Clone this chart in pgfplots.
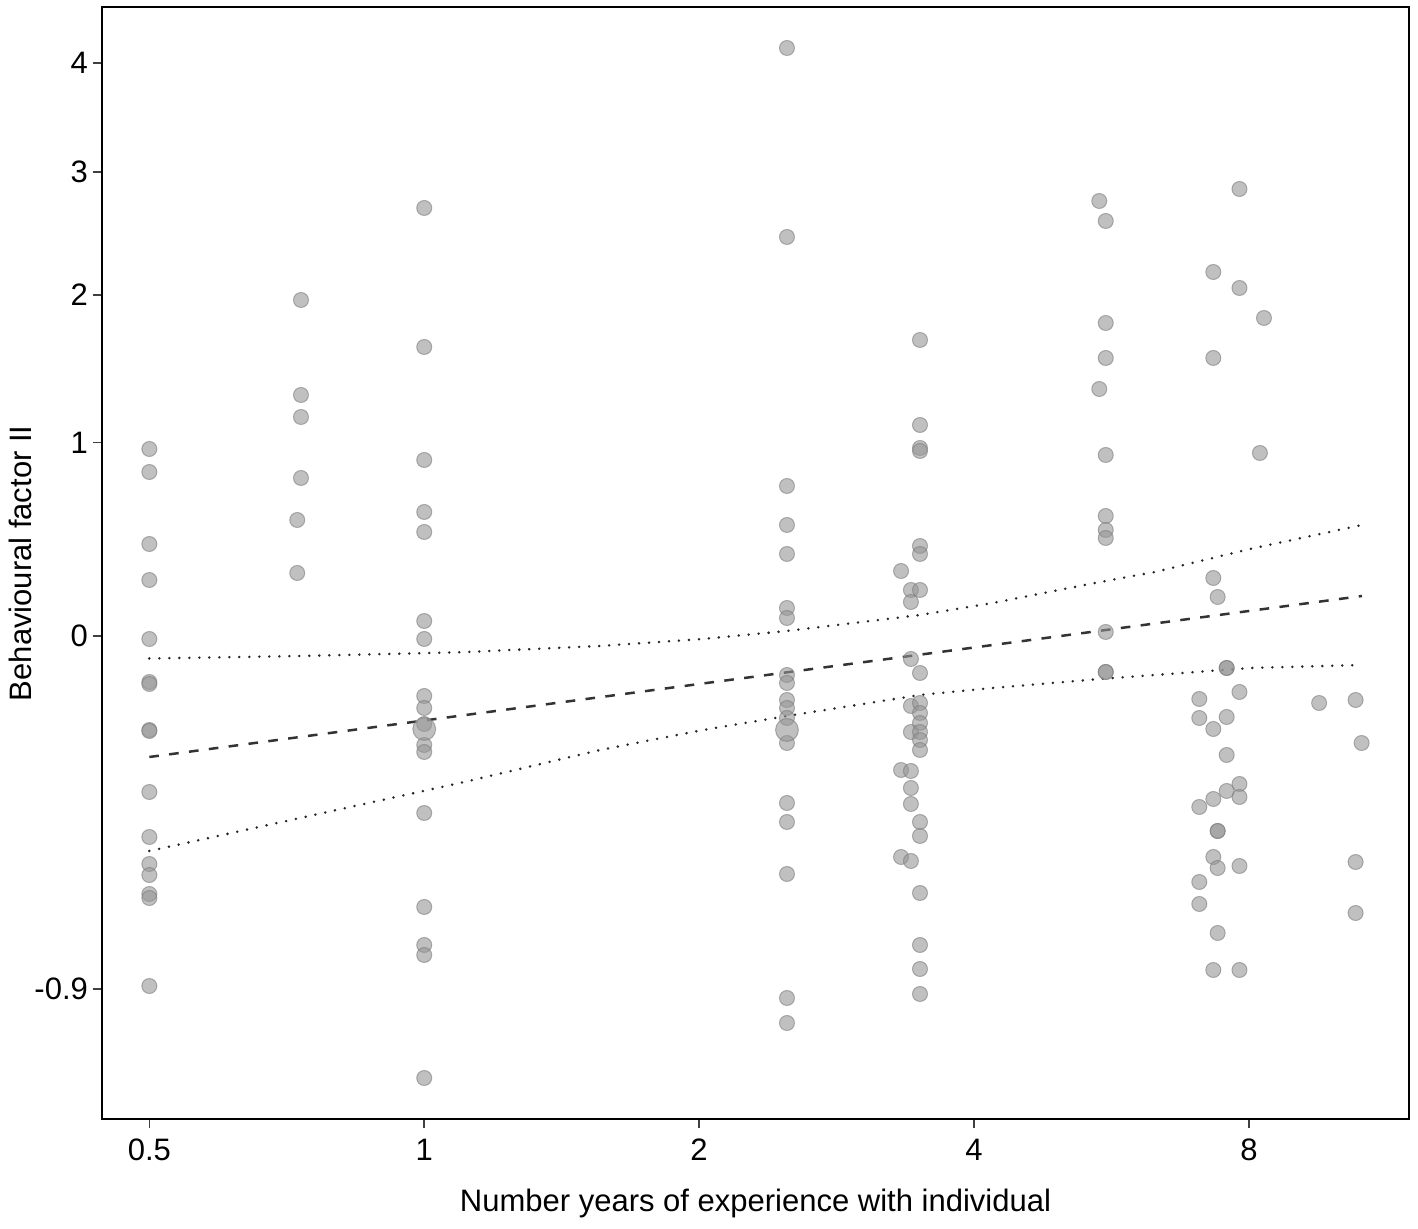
\documentclass[border=0pt]{standalone}
\usepackage{fontspec}
\setmainfont{Liberation Sans}
\usepackage{pgfplots}
\pgfplotsset{compat=1.18}
\definecolor{ptfill}{RGB}{150,150,150}
\definecolor{ptdraw}{RGB}{125,125,125}
\begin{document}
\fontsize{15.5}{18.6}\selectfont
\begin{tikzpicture}
\path[use as bounding box] (-50.85pt,-54.85pt) rectangle (658.15pt,559.65pt);
\begin{axis}[
  at={(0pt,0pt)}, anchor=south west,
  scale only axis, width=653.8pt, height=556pt,
  xmode=log, log basis x=2,
  xmin=0.4434, xmax=11.988,
  ymin=-4.833, ymax=6.287,
  xtick={0.5,1,2,4,8}, xticklabels={0.5,1,2,4,8},
  ytick={-3.53,0,1.933,3.41,4.637,5.727},
  yticklabels={-0.9,0,1,2,3,4},
  minor tick num=0,
  tick align=outside, major tick length=4.5pt,
  tick pos=left,
  tick style={black!75, line width=0.8pt},
  axis line style={black, line width=1pt},
  xticklabel style={anchor=north, inner sep=0pt, yshift=-5pt},
  yticklabel style={anchor=east, inner sep=0pt, xshift=-2.2pt},
  xlabel={Number years of experience with individual},
  ylabel={Behavioural factor II},
  xlabel style={at={(axis description cs:0.5,0)}, anchor=base, yshift=-46.35pt},
  ylabel style={at={(axis description cs:-0.0533,0.5)}, anchor=base, rotate=0},
  clip=false,
]
\addplot[only marks, mark=*, mark size=3.75pt,
  mark options={fill=ptfill, draw=ptdraw, line width=0.5pt, opacity=0.6}] table {
x t
0.5 1.87
0.5 1.64
0.5 0.92
0.5 0.56
0.5 -0.03
0.5 -0.46
0.5 -0.48
0.5 -0.94
0.5 -0.95
0.5 -1.56
0.5 -2.01
0.5 -2.28
0.5 -2.39
0.5 -2.58
0.5 -2.62
0.5 -3.50
0.726 1.16
0.726 0.63
0.733 3.36
0.733 2.41
0.733 2.19
0.733 1.58
1 4.28
1 2.89
1 1.76
1 1.24
1 1.04
1 0.15
1 -0.03
1 -0.60
1 -0.72
1 -0.88
1 -1.09
1 -1.16
1 -1.77
1 -2.71
1 -3.09
1 -3.19
1 -4.42
2.496 5.88
2.496 3.99
2.496 1.50
2.496 1.11
2.496 0.82
2.496 0.28
2.496 0.18
2.496 -0.39
2.496 -0.47
2.496 -0.64
2.496 -0.72
2.496 -0.82
2.496 -1.07
2.496 -1.67
2.496 -1.86
2.496 -2.38
2.496 -3.62
2.496 -3.87
3.328 0.65
3.328 -1.34
3.328 -2.21
3.412 0.46
3.412 0.34
3.412 -0.23
3.412 -0.70
3.412 -0.96
3.412 -1.35
3.412 -1.52
3.412 -1.68
3.412 -2.25
3.491 2.96
3.491 2.11
3.491 1.88
3.491 1.85
3.491 0.90
3.491 0.82
3.491 0.46
3.491 -0.37
3.491 -0.67
3.491 -0.77
3.491 -0.87
3.491 -0.96
3.491 -1.04
3.491 -1.14
3.491 -1.86
3.491 -2.00
3.491 -2.57
3.491 -3.09
3.491 -3.33
3.491 -3.58
5.486 4.35
5.486 2.47
5.576 4.15
5.576 3.13
5.576 2.78
5.576 1.81
5.576 1.20
5.576 1.06
5.576 0.98
5.576 0.04
5.576 -0.36
5.576 -0.36
7.06 -0.63
7.06 -0.82
7.06 -1.71
7.06 -2.46
7.06 -2.68
7.314 3.64
7.314 2.78
7.314 0.58
7.314 -0.93
7.314 -1.63
7.314 -2.21
7.314 -3.34
7.395 0.39
7.395 -1.95
7.395 -1.95
7.395 -2.32
7.395 -2.97
7.565 -0.32
7.565 -0.32
7.565 -0.81
7.565 -1.19
7.565 -1.55
7.813 4.47
7.813 3.48
7.813 -0.56
7.813 -1.48
7.813 -1.61
7.813 -2.30
7.813 -3.34
8.225 1.83
8.31 3.18
9.55 -0.67
10.47 -0.64
10.47 -2.26
10.47 -2.77
10.63 -1.07
};
\addplot[only marks, mark=*, mark size=5.7pt,
  mark options={fill=ptfill, draw=ptdraw, line width=0.5pt, opacity=0.6}] table {
x t
1 -0.93
2.496 -0.94
};
\addplot[black!80, line width=1.25pt, dash pattern=on 4.8pt off 5.2pt] coordinates {(0.5,-1.21) (10.64,0.40)};
\addplot[black!85, line width=1.4pt, line cap=round, dash pattern=on 0pt off 5pt] coordinates {
(0.5,-0.225) (0.7312,-0.20) (1.0944,-0.163) (1.5577,-0.10) (2.0197,-0.03) (2.496,0.05)
(3.491,0.21) (4.196,0.33) (5.496,0.54) (6.313,0.64) (8.022,0.87) (10.64,1.11)};
\addplot[black!85, line width=1.4pt, line cap=round, dash pattern=on 0pt off 5pt] coordinates {
(0.5,-2.15) (0.7312,-1.82) (1.0944,-1.47) (1.5577,-1.14) (2.0197,-0.94) (2.496,-0.80)
(3.491,-0.59) (4.196,-0.52) (5.496,-0.43) (6.313,-0.39) (8.022,-0.32) (10.64,-0.29)};
\end{axis}
\end{tikzpicture}
\end{document}
